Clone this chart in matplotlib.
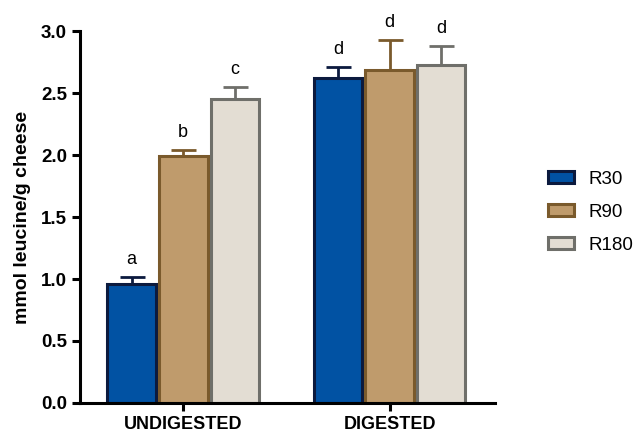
import matplotlib
matplotlib.use("Agg")
import matplotlib.pyplot as plt
import numpy as np
from matplotlib.patches import Patch

plt.rcParams['font.family'] = ['Liberation Sans', 'DejaVu Sans']

groups = ["UNDIGESTED", "DIGESTED"]
series = ["R30", "R90", "R180"]
means = {
    "R30": [0.96, 2.62],
    "R90": [1.99, 2.69],
    "R180": [2.45, 2.73],
}
errors = {
    "R30": [0.06, 0.09],
    "R90": [0.05, 0.24],
    "R180": [0.10, 0.15],
}
letters = {
    "R30": ["a", "d"],
    "R90": ["b", "d"],
    "R180": ["c", "d"],
}
fills = {"R30": "#0152a3", "R90": "#bf9b6c", "R180": "#e3ddd3"}
edges = {"R30": "#0b1a3e", "R90": "#7a5a2c", "R180": "#6f6f6a"}

W, H = 636, 438
fig = plt.figure(figsize=(W / 100, H / 100), dpi=100)
ax = fig.add_axes([0.126, 0.08, 0.652, 0.849])

x = np.arange(len(groups))
width = 0.235
offsets = [-0.25, 0.0, 0.25]
for s, off in zip(series, offsets):
    xs = x + off
    ax.bar(xs, means[s], width=width, color=fills[s], edgecolor=edges[s],
           linewidth=2.2, zorder=2)
    ax.errorbar(xs, means[s], yerr=[np.zeros(len(groups)), errors[s]],
                fmt="none", ecolor=edges[s], elinewidth=2, capsize=9,
                capthick=2, zorder=1)
    for xi, m, e, lab in zip(xs, means[s], errors[s], letters[s]):
        ax.text(xi, m + e + 0.07, lab, ha="center", va="bottom", fontsize=13)

ax.set_xlim(-0.5, 1.51)
ax.set_ylim(0, 3.0)
ax.set_yticks(np.arange(0, 3.01, 0.5))
ax.set_yticklabels([f"{v:.1f}" for v in np.arange(0, 3.01, 0.5)],
                   fontsize=13.5, fontweight="bold")
ax.set_xticks(x)
ax.set_xticklabels(groups, fontsize=13, fontweight="bold")
ax.tick_params(axis="both", width=2.2, length=6, color="black")
ax.spines["top"].set_visible(False)
ax.spines["right"].set_visible(False)
ax.spines["left"].set_linewidth(2.2)
ax.spines["bottom"].set_linewidth(2.2)
ax.set_ylabel("mmol leucine/g cheese", fontsize=14, fontweight="bold",
              labelpad=7)

handles = [Patch(facecolor=fills[s], edgecolor=edges[s], linewidth=2.2,
                 label=s) for s in series]
anchor = [0.85, 0.515]
leg = fig.legend(handles=handles, loc="center left", bbox_to_anchor=anchor,
                 frameon=False, fontsize=13.5, handlelength=1.4,
                 handleheight=0.6, labelspacing=0.85, handletextpad=0.75,
                 borderaxespad=0, borderpad=0.4)

# place the first legend swatch so its left edge sits at x=548 px and the
# middle swatch is centred at y=210 px (measured from the top)
fig.canvas.draw()
renderer = fig.canvas.get_renderer()
first = leg.legend_handles[0].get_window_extent(renderer)
mid = leg.legend_handles[1].get_window_extent(renderer)
dx = 548 - first.x0
dy = (H - 210) - 0.5 * (mid.y0 + mid.y1)
leg.set_bbox_to_anchor((anchor[0] + dx / W, anchor[1] + dy / H),
                       transform=fig.transFigure)

fig.savefig("out.png", dpi=100)
